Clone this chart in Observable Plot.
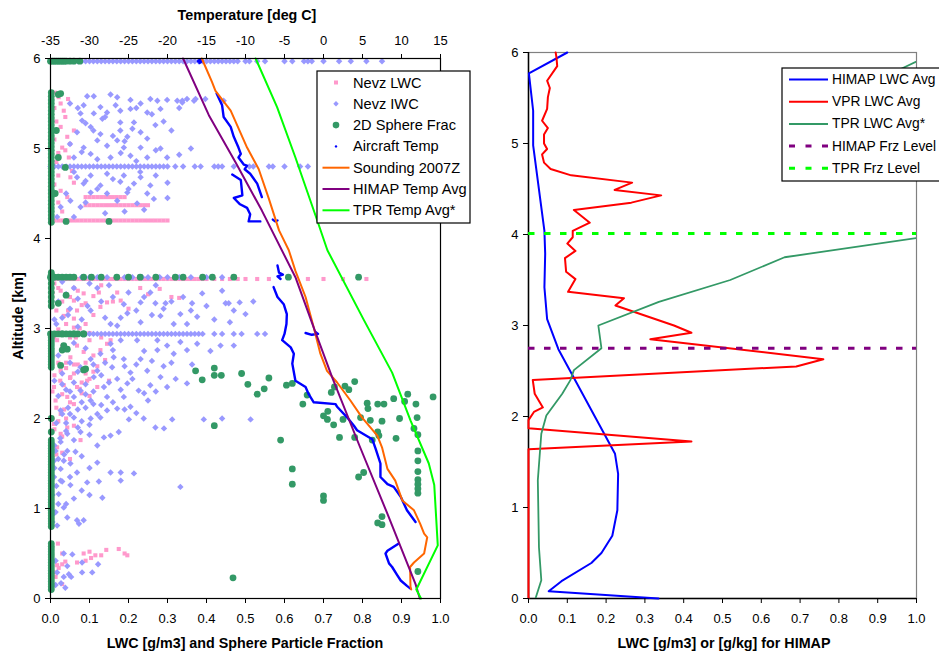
<!DOCTYPE html>
<html><head><meta charset="utf-8">
<script src="https://cdn.jsdelivr.net/npm/d3@7"></script>
<script src="https://cdn.jsdelivr.net/npm/@observablehq/plot@0.6"></script>
<style>
body{margin:0;background:#fff;overflow:hidden}
#fig{position:relative;width:939px;height:654px;overflow:hidden;background:#fff;font-family:"Liberation Sans",Arial,sans-serif}
.ttl{position:absolute;font-weight:bold;font-size:14.3px;line-height:16px;white-space:nowrap;color:#000}
.pl{position:absolute;top:0}
.lg{position:absolute}
</style></head><body>
<div id="fig"></div>
<script>
// ---------------- DATA ----------------
const tempRange = [-35, 15];
const tempTicks = [-35, -30, -25, -20, -15, -10, -5, 0, 5, 10, 15];
const lwcTicks = [0, 0.1, 0.2, 0.3, 0.4, 0.5, 0.6, 0.7, 0.8, 0.9, 1.0];
const altTicks = [0, 1, 2, 3, 4, 5, 6];

// Nevz LWC [lwc, alt]
const nevzLwcBands = [
  {alt: 5.98, x: [0, 0.005, 0.01, 0.015, 0.02, 0.03, 0.04, 0.05]},
  {alt: 4.2, x: [0, 0.01, 0.02, 0.03, 0.04, 0.05, 0.06, 0.07, 0.08, 0.09, 0.1, 0.11, 0.12, 0.13, 0.14, 0.15, 0.16, 0.17, 0.18, 0.19, 0.2, 0.21, 0.22, 0.23, 0.24, 0.25, 0.26, 0.27, 0.28, 0.29, 0.3]},
  {alt: 4.37, x: [0.09, 0.1, 0.11, 0.12, 0.13, 0.14, 0.15, 0.16, 0.17, 0.18, 0.19, 0.2, 0.21, 0.22, 0.23, 0.24, 0.25]},
  {alt: 4.46, x: [0.09, 0.1, 0.11, 0.12, 0.13, 0.14, 0.15, 0.16, 0.17, 0.18, 0.19]},
  {alt: 3.55, x: [0, 0.01, 0.02, 0.03, 0.04, 0.05, 0.06, 0.07, 0.08, 0.09, 0.1, 0.11, 0.12, 0.13, 0.14, 0.15, 0.16, 0.17, 0.18, 0.19, 0.2, 0.21, 0.22, 0.23, 0.24, 0.25, 0.26, 0.27, 0.28, 0.29, 0.3, 0.31, 0.32, 0.33, 0.34, 0.35, 0.36, 0.37, 0.38, 0.39, 0.4, 0.42, 0.44, 0.46, 0.48, 0.5, 0.53, 0.56, 0.66, 0.7, 0.75, 0.81]}
];
const nevzLwcPts = [
  [0.021,5.57],[0.026,5.5],[0.034,5.42],[0.038,5.35],[0.026,5.24],[0.043,5.13],[0.03,5.01],[0.038,4.98],[0.047,4.9],[0.034,4.79],
  [0.051,4.68],[0.026,4.53],[0.043,4.46],[0.01,5.45],[0.015,5.3],[0.01,5.1],[0.02,4.95],[0.015,4.85],[0.01,4.6],[0.02,4.4],
  [0.03,4.3],[0.06,5.2],[0.055,4.75],[0.06,4.62],[0.012,5.62],[0.045,5.55],[0.05,5.05],[0.02,4.7],
  [0.026,3.42],[0.06,3.45],[0.085,3.39],[0.23,3.45],[0.31,3.35],[0.171,3.4],[0.33,3.34],
  [0.038,3.37],[0.06,3.31],[0.124,3.4],[0.145,3.29],[0.18,3.31],[0.034,3.14],[0.068,3.2],[0.06,3.11],[0.128,3.24],
  [0.017,2.87],[0.068,2.81],[0.1,2.87],[0.145,2.83],[0.051,2.68],[0.085,2.74],[0.128,2.76],[0.154,2.87],[0.026,2.53],
  [0.051,2.46],[0.009,2.35],[0.034,2.37],[0.068,2.35],[0.094,2.42],[0.013,2.2],[0.043,2.24],[0.06,2.16],[0.026,2.05],
  [0.009,1.94],[0.043,1.9],[0.026,1.83],[0.077,1.76],[0.017,1.68],[0.004,1.57],[0.06,3.01],
  [0.01,3.5],[0.02,3.45],[0.005,3.4],[0.03,3.3],[0.015,3.2],[0.04,3.05],[0.02,2.99],[0.01,2.9],[0.03,2.8],[0.005,2.7],
  [0.02,2.62],[0.04,2.56],[0.01,2.48],[0.025,2.42],[0.005,2.3],[0.03,2.27],[0.015,2.12],[0.035,2.1],[0.005,2.0],[0.02,1.97],
  [0.01,1.88],[0.03,1.8],[0.005,1.72],[0.015,1.6],[0.005,1.5],[0.05,2.45],[0.06,2.5],[0.07,2.6],[0.08,2.4],[0.1,2.44],
  [0.12,2.58],[0.11,2.52],[0.09,2.62],[0.075,2.33],[0.04,2.62],[0.05,2.9],[0.09,3.05],[0.11,3.15],[0.08,3.26],[0.035,2.95],
  [0.05,3.35],[0.07,3.42],[0.09,3.28],[0.11,3.36],[0.13,3.48],[0.16,3.3],[0.2,3.22],[0.25,3.38],[0.28,3.44],[0.045,3.2],
  [0.075,3.0],[0.1,2.95],[0.13,2.9],[0.065,2.9],[0.11,2.7],[0.14,2.65],[0.06,2.6],[0.09,2.5],[0.12,2.35],[0.15,2.42],
  [0.08,2.28],[0.05,2.18],[0.1,2.25],[0.04,2.0],[0.06,1.92],[0.03,1.62],[0.05,1.55],
  [0.019,0.61],[0.03,0.5],[0.085,0.5],[0.1,0.52],[0.115,0.48],[0.13,0.48],[0.143,0.54],[0.175,0.55],[0.19,0.5],[0.197,0.48],
  [0.104,0.45],[0.09,0.42],[0.068,0.4],[0.03,0.38],[0.017,0.37],[0.009,0.29],[0.03,0.16],[0.013,0.24],[0.021,0.34],[0.038,0.41]
];

// Nevz IWC [lwc, alt]
const nevzIwcBands = [
  {alt: 5.97, x: [0, 0.01, 0.02, 0.03, 0.04, 0.05, 0.06, 0.07, 0.08, 0.09, 0.1, 0.11, 0.12, 0.13, 0.14, 0.15, 0.16, 0.17, 0.18, 0.19, 0.2, 0.21, 0.22, 0.23, 0.24, 0.25, 0.26, 0.27, 0.28, 0.29, 0.3, 0.31, 0.32, 0.33, 0.34, 0.35, 0.36, 0.37, 0.38, 0.39, 0.4, 0.41, 0.42, 0.43, 0.44, 0.45, 0.46, 0.47, 0.48, 0.5, 0.51, 0.53, 0.55, 0.6, 0.62, 0.65, 0.66, 0.67, 0.7, 0.74, 0.77, 0.81, 0.85]},
  {alt: 4.8, x: [0, 0.01, 0.02, 0.03, 0.04, 0.05, 0.06, 0.07, 0.08, 0.09, 0.1, 0.11, 0.12, 0.13, 0.14, 0.15, 0.16, 0.17, 0.18, 0.19, 0.2, 0.21, 0.22, 0.23, 0.24, 0.25, 0.26, 0.27, 0.28, 0.29, 0.3, 0.32, 0.34, 0.37, 0.385, 0.42, 0.43, 0.44, 0.47, 0.51, 0.52, 0.56, 0.57, 0.6, 0.64, 0.66]},
  {alt: 3.57, x: [0, 0.01, 0.02, 0.04, 0.06, 0.08, 0.1, 0.12, 0.145, 0.17, 0.19, 0.21, 0.235, 0.25, 0.28, 0.3, 0.33, 0.36, 0.4, 0.44]},
  {alt: 2.94, x: [0, 0.01, 0.02, 0.03, 0.04, 0.05, 0.06, 0.07, 0.08, 0.09, 0.1, 0.11, 0.12, 0.13, 0.14, 0.15, 0.16, 0.17, 0.18, 0.19, 0.2, 0.21, 0.22, 0.23, 0.24, 0.25, 0.26, 0.27, 0.28, 0.29, 0.3, 0.31, 0.32, 0.33, 0.34, 0.35, 0.36, 0.37, 0.38, 0.39, 0.42, 0.44, 0.47, 0.49, 0.53, 0.55]}
];
const nevzIwcPts = [
  [0.094,5.58],[0.111,5.58],[0.154,5.6],[0.171,5.57],[0.205,5.54],[0.256,5.55],[0.274,5.53],[0.299,5.54],[0.325,5.53],[0.35,5.55],
  [0.372,5.55],[0.397,5.55],[0.338,5.53],[0.368,5.53],[0.444,5.53],[0.085,5.48],[0.128,5.46],[0.167,5.48],[0.231,5.5],[0.282,5.44],
  [0.338,5.51],[0.179,5.42],[0.205,5.44],[0.077,5.39],[0.111,5.39],[0.145,5.4],[0.248,5.4],[0.081,5.31],[0.133,5.33],[0.179,5.29],
  [0.214,5.29],[0.269,5.26],[0.068,5.18],[0.103,5.24],[0.128,5.16],[0.179,5.2],[0.231,5.18],[0.12,5.09],[0.171,5.09],[0.197,5.13],
  [0.248,5.11],[0.085,5.01],[0.145,5.03],[0.188,5.01],[0.231,5.01],[0.282,5.0],[0.06,4.9],[0.103,4.94],[0.154,4.9],[0.205,4.92],
  [0.248,4.9],[0.299,4.9],[0.068,4.68],[0.103,4.7],[0.145,4.72],[0.188,4.7],[0.231,4.68],[0.085,4.61],[0.128,4.59],[0.179,4.63],
  [0.214,4.61],[0.256,4.59],[0.103,4.51],[0.145,4.5],[0.197,4.51],[0.248,4.5],[0.265,4.44],[0.051,4.42],[0.171,4.42],[0.026,4.35],
  [0.077,4.35],[0.222,4.39],[0.017,4.24],[0.06,4.24],
  [0.05,5.5],[0.07,5.45],[0.09,5.28],[0.11,5.2],[0.14,5.35],[0.16,5.14],[0.19,5.08],[0.21,5.22],[0.22,5.45],[0.26,5.38],
  [0.29,5.3],[0.31,5.2],[0.33,5.45],[0.05,5.05],[0.08,4.96],[0.12,4.88],[0.18,4.95],[0.22,4.86],[0.27,4.98],[0.33,4.93],
  [0.36,5.0],[0.06,4.74],[0.09,4.64],[0.12,4.55],[0.16,4.66],[0.2,4.55],[0.23,4.74],[0.27,4.7],[0.3,4.62],[0.04,4.5],
  [0.09,4.4],[0.14,4.28],[0.19,4.3],[0.24,4.32],[0.3,4.45],
  [0.389,3.39],[0.449,3.28],[0.457,3.28],[0.485,3.29],[0.363,3.28],[0.295,3.28],[0.269,3.28],[0.5,3.16],[0.46,3.07],[0.376,3.13],
  [0.333,3.16],[0.316,3.05],[0.282,3.14],[0.231,3.07],[0.197,3.17],[0.154,3.05],[0.171,3.03],[0.103,3.2],[0.188,3.27],[0.231,3.29],
  [0.256,3.4],[0.12,3.45],[0.07,3.33],[0.14,3.12],
  [0.01,3.1],[0.045,3.15],[0.08,3.1],[0.095,3.25],[0.13,3.3],[0.16,3.35],[0.2,3.4],[0.22,3.2],[0.26,3.15],[0.29,3.22],
  [0.31,3.3],[0.34,3.35],[0.36,3.2],[0.4,3.25],[0.42,3.1],[0.47,3.2],[0.52,3.3],[0.44,3.42],[0.1,3.5],[0.15,3.48],
  [0.18,3.12],[0.24,3.35],[0.07,3.02],[0.35,3.05],[0.27,3.48],
  [0.154,2.83],[0.18,2.87],[0.222,2.87],[0.274,2.87],[0.299,2.81],[0.333,2.85],[0.376,2.83],[0.436,2.81],[0.47,2.81],[0.41,2.75],
  [0.35,2.76],[0.316,2.72],[0.274,2.76],[0.231,2.66],[0.188,2.66],[0.162,2.68],[0.128,2.72],[0.103,2.66],[0.077,2.57],[0.12,2.53],
  [0.158,2.57],[0.205,2.51],[0.248,2.53],[0.282,2.46],[0.321,2.44],[0.363,2.6],[0.35,2.39],[0.299,2.35],[0.256,2.37],[0.226,2.31],
  [0.197,2.39],[0.171,2.44],[0.137,2.35],[0.111,2.46],[0.077,2.31],[0.06,2.24],[0.103,2.2],[0.145,2.24],[0.188,2.24],[0.145,2.09],
  [0.171,2.11],[0.205,2.13],[0.026,2.09],[0.06,2.01],[0.103,2.0],[0.128,2.01],[0.201,1.99],[0.239,2.0],[0.312,1.99],[0.393,1.99],
  [0.44,2.0],[0.513,1.99],[0.269,1.9],[0.291,1.89],[0.043,1.83],[0.077,1.85],[0.137,1.79],[0.175,1.85],[0.154,1.81],[0.026,1.74],
  [0.06,1.76],[0.013,1.64],[0.043,1.64],[0.064,1.63],[0.034,1.53],[0.051,1.5],[0.12,1.51],[0.026,1.44],[0.068,1.4],[0.154,1.4],
  [0.18,1.4],[0.214,1.39],[0.094,1.29],[0.124,1.3],[0.18,1.31],[0.026,1.31],[0.051,1.26],[0.333,1.24],[0.021,1.16],[0.06,1.11],
  [0.133,1.12],[0.034,1.01],[0.013,0.96],[0.043,0.9],[0.068,0.87],[0.073,0.83],[0.085,0.87],[0.017,0.81],[0.009,1.53],[0.009,1.35],
  [0.09,2.78],[0.11,2.6],[0.14,2.62],[0.16,2.76],[0.19,2.58],[0.22,2.6],[0.24,2.75],[0.26,2.64],[0.29,2.58],[0.31,2.62],
  [0.13,2.48],[0.15,2.4],[0.18,2.32],[0.21,2.44],[0.24,2.28],[0.27,2.3],[0.06,2.4],[0.07,2.52],[0.03,2.38],[0.05,2.3],
  [0.09,2.12],[0.12,2.05],[0.16,2.18],[0.19,2.1],[0.22,2.06],[0.25,2.2],[0.04,1.95],[0.07,1.9],[0.1,1.82],[0.12,1.7],
  [0.08,1.58],[0.1,1.45],[0.05,1.35],[0.08,1.2],[0.04,1.05],[0.1,1.15],
  [0.005,0.85],[0.01,0.95],[0.02,1.05],[0.005,1.15],[0.015,1.25],[0.03,1.3],[0.01,1.45],[0.02,1.55],[0.035,1.6],[0.01,1.7],
  [0.025,1.78],[0.04,1.86],[0.015,1.95],[0.03,2.05],[0.045,2.12],[0.02,2.25],[0.04,2.32],[0.01,2.42],[0.03,2.5],[0.05,2.62],
  [0.02,2.7],[0.04,2.78],[0.06,2.84],[0.015,3.05],[0.03,3.12],[0.05,3.22],[0.02,3.3],[0.04,3.38],[0.06,3.45],[0.03,3.52],
  [0.08,2.18],[0.09,2.27],[0.11,2.16],[0.07,2.1],[0.09,2.38],[0.05,2.05],[0.1,1.93],[0.08,1.97],[0.11,2.3],[0.13,2.15],
  [0.034,0.5],[0.056,0.49],[0.081,0.4],[0.122,0.38],[0.043,0.36],[0.017,0.29],[0.034,0.24],[0.047,0.27],[0.053,0.24],[0.081,0.29],
  [0.107,0.29],[0.013,0.15],[0.038,0.12],[0.027,0.17],[0.013,0.42]
];

// 2D Sphere Frac [fraction, alt]
const sphereBands = [
  {alt: 5.97, x: [0, 0.005, 0.01, 0.015, 0.02, 0.025, 0.03, 0.035, 0.04, 0.05, 0.06, 0.075]},
  {alt: 3.57, x: [0, 0.005, 0.01, 0.02, 0.03, 0.04, 0.05, 0.06, 0.085, 0.105, 0.13, 0.17, 0.2, 0.23, 0.27, 0.32, 0.34, 0.39, 0.415, 0.47, 0.61, 0.79]},
  {alt: 2.94, x: [0, 0.01, 0.02, 0.03, 0.04, 0.05, 0.06, 0.07, 0.085]}
];
const sphereColumnAlts = [
  0.1, 0.13, 0.16, 0.19, 0.22, 0.25, 0.28, 0.31, 0.34, 0.37, 0.4, 0.43, 0.46, 0.49, 0.52, 0.55, 0.58, 0.61,
  0.8, 0.83, 0.86, 0.89, 0.92, 0.95, 0.98, 1.01, 1.04, 1.07, 1.1, 1.13, 1.16, 1.19, 1.22, 1.25, 1.28, 1.31, 1.34, 1.37, 1.4, 1.43, 1.46, 1.49, 1.52, 1.55, 1.58, 1.61, 1.64, 1.67, 1.7, 1.73, 1.76,
  1.85, 2.0, 2.57, 2.6, 2.63, 2.66, 2.69, 2.72, 2.75, 2.78, 2.81, 2.84, 2.87, 2.9,
  3.25, 3.3, 3.35, 3.4, 3.45, 3.5, 3.55, 3.6, 3.62,
  4.18, 4.22, 4.26, 4.3, 4.34, 4.38, 4.42, 4.46, 4.5, 4.54, 4.58, 4.62, 4.66, 4.7, 4.74, 4.78, 4.82, 4.86, 4.9, 4.94, 4.98, 5.02, 5.06, 5.1, 5.14, 5.18, 5.22, 5.26, 5.3, 5.34, 5.38, 5.42, 5.46, 5.5, 5.54, 5.58, 5.62
];
const spherePts = [
  [0.02,3.28],[0.04,3.37],[0.03,2.94],[0.06,2.94],[0.085,2.94],[0.03,2.76],[0.043,2.77],[0.026,2.59],[0.085,2.54],[0.034,2.81],
  [0.09,2.55],[0.02,5.6],[0.026,5.61],[0.038,4.79],[0.04,4.19],[0.15,4.19],[0.015,5.2],[0.02,4.9],[0.012,4.5],
  [0.372,2.53],[0.389,2.43],[0.42,2.56],[0.42,2.48],[0.438,2.48],[0.49,2.5],[0.506,2.38],[0.53,2.27],[0.548,2.33],[0.56,2.45],
  [0.605,2.37],[0.62,2.39],[0.647,2.16],[0.658,2.26],[0.59,1.76],[0.62,1.44],[0.62,1.27],[0.7,1.14],[0.7,1.09],[0.711,2.08],
  [0.7,2.03],[0.71,1.99],[0.726,1.93],[0.72,2.29],[0.728,2.35],[0.741,1.79],[0.75,1.99],[0.755,2.36],[0.765,2.32],[0.78,2.41],
  [0.79,1.35],[0.803,1.4],[0.78,1.79],[0.795,2.01],[0.812,2.17],[0.814,2.11],[0.82,1.98],[0.825,1.76],[0.839,1.85],[0.842,1.81],
  [0.85,1.97],[0.839,2.16],[0.855,2.16],[0.88,2.22],[0.886,1.78],[0.895,2.0],[0.908,2.19],[0.916,2.27],[0.937,2.16],[0.94,2.01],
  [0.932,1.89],[0.942,1.82],[0.942,1.64],[0.942,1.53],[0.942,1.41],[0.942,1.32],[0.942,1.27],[0.942,1.22],[0.942,1.17],[0.981,2.24],
  [0.85,0.91],[0.839,0.84],[0.85,0.82],[0.942,0.3],[0.468,0.23],[0.42,1.92]
];

// Aircraft Temp [deg C, alt, segment]
const aircraftTemp = [
  [-16.1,5.97,1],[-15.8,5.99,1],[-15.6,5.97,1],[-15.9,5.95,1],
  [-13.7,5.61,2],[-13.0,5.48,2],[-12.8,5.35,2],[-11.9,5.24,2],[-11.5,5.13,2],[-10.9,5.01,2],[-10.6,4.94,2],[-10.9,4.9,2],[-10.2,4.82,2],[-9.8,4.81,2],[-10.1,4.77,2],[-9.4,4.72,2],[-8.5,4.61,2],[-7.9,4.46,2],
  [-11.7,4.71,3],[-10.6,4.65,3],[-10.4,4.48,3],[-11.5,4.45,3],[-10.7,4.38,3],[-9.8,4.34,3],[-9.4,4.27,3],[-9.6,4.19,3],[-8.1,4.19,3],
  [-6.5,4.21,4],[-6.2,4.19,4],[-5.9,4.2,4],
  [-5.9,3.7,5],[-5.7,3.62,5],[-5.2,3.6,5],[-5.9,3.58,5],[-5.5,3.55,5],
  [-6.4,3.46,6],[-5.9,3.35,6],[-5.1,3.27,6],[-4.7,3.16,6],[-4.75,3.05,6],[-5.0,2.94,6],[-5.3,2.87,6],[-4.2,2.79,6],[-3.8,2.72,6],[-4.0,2.61,6],[-3.6,2.42,6],[-2.3,2.35,6],[-1.9,2.27,6],[-1.25,2.18,6],[1.55,2.16,6],[1.75,2.13,6],[3.05,2.01,6],[3.9,1.92,6],[4.3,1.87,6],[6.25,1.77,6],[6.7,1.66,6],[7.3,1.5,6],[7.3,1.35,6],[8.2,1.27,6],[9.0,1.24,6],[9.9,1.13,6],[10.7,0.98,6],[11.8,0.85,6],
  [-2.3,2.95,7],[-1.5,2.93,7],[-0.7,2.94,7],[-1.0,2.96,7],
  [9.65,0.61,8],[8.2,0.53,8],[7.95,0.5,8],[8.4,0.39,8],[8.8,0.35,8],[9.45,0.26,8],[9.9,0.2,8],[10.7,0.14,8],[11.15,0.11,8]
];
// Sounding 2007Z [deg C, alt]
const sounding = [
  [-15.6,6.0],[-14.3,5.74],[-13.85,5.64],[-11.9,5.42],[-9.8,5.01],[-8.3,4.77],[-7.0,4.44],[-5.7,4.09],[-4.45,3.87],[-3.6,3.64],
  [-2.3,3.35],[-1.25,3.01],[-0.4,2.72],[0.45,2.53],[1.75,2.4],[3.45,2.2],[4.95,2.01],[6.9,1.81],[7.5,1.68],[8.2,1.44],
  [9.2,1.31],[10.1,1.09],[11.6,0.98],[12.4,0.83],[12.9,0.72],[13.3,0.68],[12.9,0.5],[11.6,0.4],[11.1,0.35],[11.15,0.13],[11.25,0.1]
];
// HIMAP Temp Avg [deg C, alt]
const himapTemp = [
  [-18.0,6.0],[-14.7,5.37],[-11.3,4.85],[-7.9,4.31],[-3.6,3.57],[-1.25,3.01],[1.1,2.46],[4.6,1.7],[8.2,0.94],[11.8,0.16],[12.35,0.0]
];
// TPR Temp Avg* [deg C, alt]
const tprTemp = [
  [-8.7,6.0],[-5.95,5.46],[-3.6,4.9],[-0.8,4.2],[0.5,3.87],[5.2,3.09],[8.8,2.51],[11.15,1.98],[13.5,1.5],[14.2,1.26],[14.65,0.59],[11.9,0.1],[12.5,0.0]
];

// Right panel [LWC, alt]
const himapLwc = [
  [0.335,0],[0.052,0.08],[0.085,0.19],[0.162,0.39],[0.188,0.5],[0.216,0.69],[0.229,0.97],[0.231,1.37],[0.223,1.59],[0.077,2.74],
  [0.048,3.07],[0.041,3.42],[0.043,3.79],[0.041,4.04],[0.012,4.98],[0.012,5.36],[0.001,5.77],[0.1,6.0]
];
const vprLwc = [
  [0,0],[0,1.64],[0.42,1.725],[0,1.87],[0,1.96],[0.014,2.05],[0.037,2.1],[0.016,2.25],[0.011,2.4],[0.69,2.55],[0.76,2.63],
  [0.314,2.85],[0.42,2.92],[0.375,3.0],[0.224,3.22],[0.246,3.3],[0.102,3.37],[0.121,3.51],[0.097,3.59],[0.094,3.74],[0.121,3.82],
  [0.1,3.9],[0.114,3.97],[0.114,4.04],[0.158,4.13],[0.117,4.27],[0.265,4.35],[0.342,4.43],[0.222,4.49],[0.267,4.57],[0.11,4.65],
  [0.057,4.72],[0.04,4.79],[0.035,4.88],[0.048,4.94],[0.04,5.0],[0.04,5.1],[0.05,5.17],[0.035,5.25],[0.048,5.38],[0.05,5.51],
  [0.055,5.61],[0.048,5.69],[0.074,5.85],[0.072,5.95],[0.07,6.0]
];
const tprLwc = [
  [0.018,0],[0.033,0.2],[0.027,0.56],[0.024,1.3],[0.033,1.81],[0.046,2.01],[0.087,2.25],[0.108,2.4],[0.117,2.51],[0.188,2.75],
  [0.18,3.0],[0.336,3.26],[0.52,3.5],[0.66,3.75],[1.0,3.96],[1.2,4.3],[1.15,4.9],[0.95,5.8],[1.05,6.0]
];
const himapFrzLevel = 2.75;
const tprFrzLevel = 4.01;

const leftLegendLabels = ["Nevz LWC", "Nevz IWC", "2D Sphere Frac", "Aircraft Temp", "Sounding 2007Z", "HIMAP Temp Avg", "TPR Temp Avg*"];
const rightLegendLabels = ["HIMAP LWC Avg", "VPR LWC Avg", "TPR LWC Avg*", "HIMAP Frz Level", "TPR Frz Level"];

// ---------------- BUILD ----------------
const C = {lwc: "#FF99CC", iwc: "#9999FF", sph: "#339966", air: "#0000FF", snd: "#FF6600", himT: "#800080", tprT: "#00FF00",
           himL: "#0000FF", vpr: "#FF0000", tprL: "#339966", himF: "#800080", tprF: "#00FF00"};
const FONT = "'Liberation Sans', Arial, sans-serif";
const fig = document.getElementById("fig");
const diamondSym = d3.symbolDiamond2 || "diamond";

const flatBands = (bands) => bands.flatMap(b => b.x.map(x => [x, b.alt]));
const lwcData = flatBands(nevzLwcBands).concat(nevzLwcPts);
const iwcData = flatBands(nevzIwcBands).concat(nevzIwcPts);
const sphData = flatBands(sphereBands).concat(sphereColumnAlts.map(a => [0.002, a])).concat(spherePts);
const tX = t => (t - tempRange[0]) / (tempRange[1] - tempRange[0]);   // temperature onto the shared x scale
const xT = x => Math.round(x * (tempRange[1] - tempRange[0]) + tempRange[0]);

const px = d => d[0], py = d => d[1], tx = d => tX(d[0]);

const left = Plot.plot({
  width: 470, height: 654,
  marginLeft: 50, marginRight: 30, marginTop: 58, marginBottom: 56,
  x: {domain: [0, 1]}, y: {domain: [0, 6]},
  style: {fontFamily: FONT, fontSize: "13px", color: "#000", background: "transparent", overflow: "visible"},
  marks: [
    Plot.dot(lwcData, {x: px, y: py, symbol: "square", r: 2.3, fill: C.lwc}),
    Plot.dot(iwcData, {x: px, y: py, symbol: diamondSym, r: 2.9, fill: C.iwc}),
    Plot.dot(sphData, {x: px, y: py, r: 3.4, fill: C.sph}),
    Plot.line(aircraftTemp, {x: tx, y: py, z: d => d[2], stroke: C.air, strokeWidth: 2.4}),
    Plot.line(sounding, {x: tx, y: py, stroke: C.snd, strokeWidth: 2}),
    Plot.line(himapTemp, {x: tx, y: py, stroke: C.himT, strokeWidth: 2}),
    Plot.line(tprTemp, {x: tx, y: py, stroke: C.tprT, strokeWidth: 2}),
    Plot.frame({stroke: "#000", strokeWidth: 1.2}),
    Plot.axisX({anchor: "bottom", ticks: lwcTicks, tickFormat: d3.format(".1f"), tickSize: 5, tickPadding: 10, label: null}),
    Plot.axisX({anchor: "top", ticks: tempTicks.map(tX), tickFormat: d => String(xT(d)), tickSize: 5, tickPadding: 9, label: null}),
    Plot.axisY({anchor: "left", ticks: altTicks, tickFormat: d => String(d), tickSize: 5, tickPadding: 5, label: null})
  ]
});
left.classList.add("pl"); left.style.left = "0px";
fig.appendChild(left);

const right = Plot.plot({
  width: 469, height: 654,
  marginLeft: 58, marginRight: 23, marginTop: 52, marginBottom: 56,
  x: {domain: [0, 1]}, y: {domain: [0, 6]},
  style: {fontFamily: FONT, fontSize: "13px", color: "#000", background: "transparent", overflow: "visible"},
  marks: [
    Plot.frame({stroke: "#808080", strokeWidth: 1.2}),
    Plot.ruleX([0], {stroke: "#000", strokeWidth: 1.5}),
    Plot.ruleY([0], {stroke: "#000", strokeWidth: 1.5}),
    Plot.line(himapLwc, {x: px, y: py, stroke: C.himL, strokeWidth: 2}),
    Plot.line(vprLwc, {x: px, y: py, stroke: C.vpr, strokeWidth: 2}),
    Plot.line(tprLwc, {x: px, y: py, stroke: C.tprL, strokeWidth: 1.8, clip: true}),
    Plot.ruleY([himapFrzLevel], {stroke: C.himF, strokeWidth: 3, strokeDasharray: "6.5,9.5"}),
    Plot.ruleY([tprFrzLevel], {stroke: C.tprF, strokeWidth: 3, strokeDasharray: "6.5,9.5"}),
    Plot.axisX({anchor: "bottom", ticks: lwcTicks, tickFormat: d3.format(".1f"), tickSize: 5, tickPadding: 10, label: null}),
    Plot.axisY({anchor: "left", ticks: altTicks, tickFormat: d => String(d), tickSize: 5, tickPadding: 5, label: null})
  ]
});
right.classList.add("pl"); right.style.left = "470px";
fig.appendChild(right);

// Titles
function title(text, cx, cy, rot) {
  const d = document.createElement("div");
  d.className = "ttl"; d.textContent = text;
  d.style.left = cx + "px"; d.style.top = cy + "px";
  d.style.transform = "translate(-50%,-50%)" + (rot ? " rotate(-90deg)" : "");
  fig.appendChild(d);
}
title("Temperature [deg C]", 247, 14.6);
title("LWC [g/m3] and Sphere Particle Fraction", 245, 642.8);
title("Altitude [km]", 18, 316, true);
title("LWC [g/m3] or [g/kg] for HIMAP", 724, 642.8);

// Legends
const NS = "http://www.w3.org/2000/svg";
function el(tag, attrs, parent) {
  const e = document.createElementNS(NS, tag);
  for (const k in attrs) e.setAttribute(k, attrs[k]);
  parent.appendChild(e); return e;
}
function legend(items, o) {
  const s = document.createElementNS(NS, "svg");
  s.setAttribute("width", o.w + 2); s.setAttribute("height", o.h + 2);
  s.setAttribute("class", "lg"); s.style.left = (o.left - 1) + "px"; s.style.top = (o.top - 1) + "px";
  el("rect", {x: 1, y: 1, width: o.w, height: o.h, fill: "#fff", stroke: "#000", "stroke-width": 1.2}, s);
  items.forEach((it, i) => {
    const cy = 1 + o.row0 + i * o.step;
    const cx = 1 + (o.sw0 + o.sw1) / 2;
    if (it.kind === "line" || it.kind === "dash") {
      el("line", {x1: 1 + o.sw0, x2: 1 + o.sw1, y1: cy, y2: cy, stroke: it.color, "stroke-width": it.kind === "dash" ? 3 : 2,
        "stroke-dasharray": it.kind === "dash" ? "6,10.5" : "none"}, s);
    } else if (it.kind === "square") {
      el("rect", {x: cx - 2, y: cy - 2, width: 4, height: 4, fill: it.color}, s);
    } else if (it.kind === "diamond") {
      el("path", {d: `M${cx},${cy - 2.7}L${cx + 2.7},${cy}L${cx},${cy + 2.7}L${cx - 2.7},${cy}Z`, fill: it.color}, s);
    } else if (it.kind === "circle") {
      el("circle", {cx, cy, r: 3.3, fill: it.color}, s);
    } else if (it.kind === "dot") {
      el("circle", {cx, cy, r: 1.2, fill: it.color}, s);
    }
    const t = el("text", {x: 1 + o.tx, y: cy, "dominant-baseline": "central", "font-family": FONT, "font-size": o.fs, fill: "#000"}, s);
    t.textContent = it.label;
  });
  fig.appendChild(s);
}
const leftKinds = ["square", "diamond", "circle", "dot", "line", "line", "line"];
const leftColors = [C.lwc, C.iwc, C.sph, C.air, C.snd, C.himT, C.tprT];
legend(leftLegendLabels.map((label, i) => ({label, kind: leftKinds[i], color: leftColors[i]})),
  {left: 317, top: 71, w: 153, h: 152, row0: 11.5, step: 21.3, sw0: 5.5, sw1: 32.5, tx: 36, fs: 14.6});
const rightKinds = ["line", "line", "line", "dash", "dash"];
const rightColors = [C.himL, C.vpr, C.tprL, C.himF, C.tprF];
legend(rightLegendLabels.map((label, i) => ({label, kind: rightKinds[i], color: rightColors[i]})),
  {left: 782, top: 68, w: 190, h: 113, row0: 11.5, step: 22.2, sw0: 7, sw1: 46, tx: 50, fs: 13.8});
</script></body></html>
